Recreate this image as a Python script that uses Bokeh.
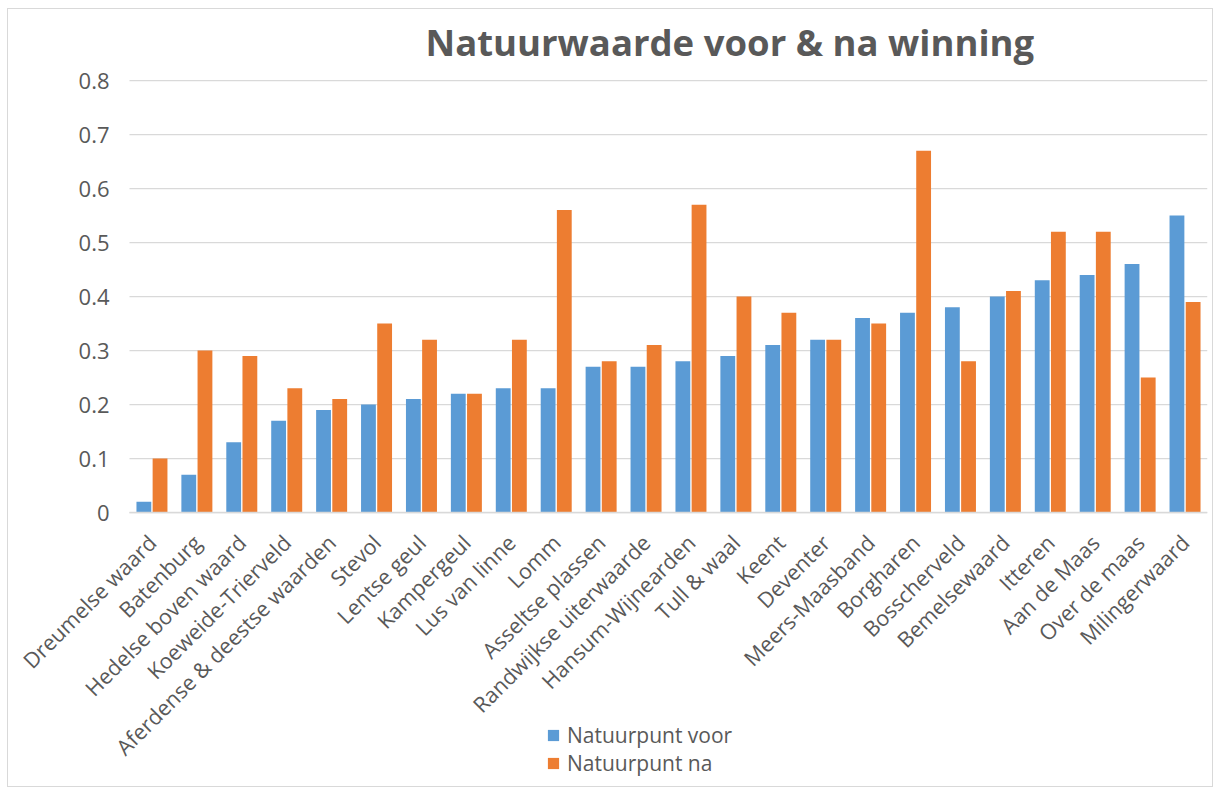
import math
from bokeh.plotting import figure
from bokeh.models import (ColumnDataSource, Range1d, FixedTicker, CustomJSTickFormatter,
                          Legend, LegendItem)
from bokeh.transform import dodge
from bokeh.embed import file_html
from bokeh.resources import INLINE

categories = ["Dreumelse waard", "Batenburg", "Hedelse boven waard", "Koeweide-Trierveld",
              "Aferdense & deestse waarden", "Stevol", "Lentse geul", "Kampergeul",
              "Lus van linne", "Lomm", "Asseltse plassen", "Randwijkse uiterwaarde",
              "Hansum-Wijnearden", "Tull & waal", "Keent", "Deventer", "Meers-Maasband",
              "Borgharen", "Bosscherveld", "Bemelsewaard", "Itteren", "Aan de Maas",
              "Over de maas", "Milingerwaard"]
voor = [0.02, 0.07, 0.13, 0.17, 0.19, 0.20, 0.21, 0.22, 0.23, 0.23, 0.27, 0.27,
        0.28, 0.29, 0.31, 0.32, 0.36, 0.37, 0.38, 0.40, 0.43, 0.44, 0.46, 0.55]
na = [0.10, 0.30, 0.29, 0.23, 0.21, 0.35, 0.32, 0.22, 0.32, 0.56, 0.28, 0.31,
      0.57, 0.40, 0.37, 0.32, 0.35, 0.67, 0.28, 0.41, 0.52, 0.52, 0.25, 0.39]
y_ticks = [0, 0.1, 0.2, 0.3, 0.4, 0.5, 0.6, 0.7, 0.8]
series_names = ["Natuurpunt voor", "Natuurpunt na"]

BLUE = "#5B9BD5"
ORANGE = "#ED7D31"
GREY_TXT = "#595959"
GRID = "#D9D9D9"
FONT = "Open Sans"

# layout geometry (pixels)
W, H = 1206, 779
TOP, BOTTOM, RIGHT = 57, 4, 7
HEAD = 14                         # pixels between frame top and the 0.8 line
AREA_LEFT = 121                   # pixels from frame left to the first category edge
PLOT_H = 432                      # pixel height of the 0 .. 0.8 value span
n = len(categories)
frame_w = W - RIGHT
frame_h = H - TOP - BOTTOM
cat_px = (frame_w - AREA_LEFT) / n
x_lo = -0.5 - AREA_LEFT / cat_px
x_hi = n - 0.5
per_px = y_ticks[-1] / PLOT_H
y_top = y_ticks[-1] + HEAD * per_px
y_min = y_top - frame_h * per_px   # room below 0 for labels + legend

idx = list(range(n))
src = ColumnDataSource(dict(idx=idx, cat=categories, voor=voor, na=na))

p = figure(x_range=Range1d(x_lo, x_hi), y_range=Range1d(y_min, y_top),
           width=W, height=H, output_backend="svg", toolbar_location=None,
           min_border_left=0, min_border_right=RIGHT, min_border_top=TOP,
           min_border_bottom=BOTTOM, title="Natuurwaarde voor & na winning")
p.styles = {"border": "1px solid #d9d9d9", "margin-left": "7px", "margin-top": "8px"}
p.outline_line_color = None
p.background_fill_color = "white"
p.border_fill_color = "white"
p.xgrid.visible = False
p.ygrid.visible = False

p.title.text_font = FONT
p.title.text_font_size = "36.5px"
p.title.text_font_style = "bold"
p.title.text_color = GREY_TXT
p.title.align = "left"
p.title.offset = 417
p.title.standoff = 0

# horizontal gridlines over the value area only
p.segment(x0=[-0.5] * len(y_ticks), x1=[x_hi] * len(y_ticks), y0=y_ticks, y1=y_ticks,
          line_color=GRID, line_width=1.25)

r1 = p.vbar(x=dodge("idx", -0.18), top="voor", width=0.33, source=src,
            fill_color=BLUE, line_color=None)
r2 = p.vbar(x=dodge("idx", 0.18), top="na", width=0.33, source=src,
            fill_color=ORANGE, line_color=None)

# y axis drawn at the left edge of the value area
p.yaxis.fixed_location = -0.5
p.yaxis.ticker = FixedTicker(ticks=y_ticks)
p.yaxis.formatter = CustomJSTickFormatter(code="return tick === 0 ? '0' : tick.toFixed(1);")
p.yaxis.axis_line_color = None
p.yaxis.major_tick_line_color = None
p.yaxis.minor_tick_line_color = None
p.yaxis.major_tick_out = 0
p.yaxis.major_label_text_font = FONT
p.yaxis.major_label_text_font_size = "22px"
p.yaxis.major_label_text_color = GREY_TXT
p.yaxis.major_label_standoff = 20

# x axis at value 0 with rotated category names
p.xaxis.fixed_location = 0
p.xaxis.bounds = (-0.5, x_hi)
p.xaxis.ticker = FixedTicker(ticks=idx)
p.xaxis.major_label_overrides = {i: c for i, c in zip(idx, categories)}
p.xaxis.axis_line_color = GRID
p.xaxis.axis_line_width = 1.5
p.xaxis.major_tick_line_color = None
p.xaxis.minor_tick_line_color = None
p.xaxis.major_label_orientation = math.pi / 4
p.xaxis.major_label_text_font = FONT
p.xaxis.major_label_text_font_size = "21.5px"
p.xaxis.major_label_text_color = GREY_TXT
p.xaxis.major_label_standoff = 20

legend = Legend(items=[LegendItem(label=series_names[0], renderers=[r1]),
                       LegendItem(label=series_names[1], renderers=[r2])],
                location=(538, 7), orientation="vertical",
                label_text_font=FONT, label_text_font_size="21px",
                label_text_color=GREY_TXT, glyph_width=14, glyph_height=14,
                label_height=20, spacing=0, padding=0, margin=0,
                border_line_color=None, background_fill_alpha=0,
                label_standoff=7)
p.add_layout(legend, "center")

open("out.html", "w").write(file_html(p, INLINE))
